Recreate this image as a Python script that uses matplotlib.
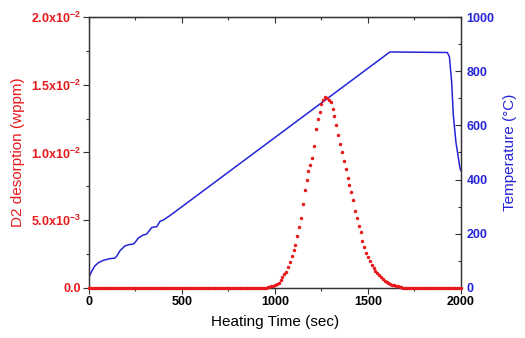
import numpy as np
import matplotlib
matplotlib.use("Agg")
import matplotlib.pyplot as plt
from matplotlib.ticker import MultipleLocator, FixedLocator, FixedFormatter

plt.rcParams.update({"font.family": ["Liberation Sans", "DejaVu Sans"],
                     "mathtext.fontset": "custom",
                     "mathtext.rm": "Liberation Sans",
                     "mathtext.bf": "Liberation Sans:bold"})

# D2 desorption sampled every 10 s (wppm)
d2_time = list(range(0, 2001, 10))
d2_wppm = [
    0, 0, 0, 0, 0, 0, 0, 0, 0, 0,
    0, 0, 0, 0, 0, 0, 0, 0, 0, 0,
    0, 0, 0, 0, 0, 0, 0, 0, 0, 0,
    0, 0, 0, 0, 0, 0, 0, 0, 0, 0,
    0, 0, 0, 0, 0, 0, 0, 0, 0, 0,
    0, 0, 0, 0, 0, 0, 0, 0, 0, 0,
    0, 0, 0, 0, 0, 0, 0, 0, 0, 0,
    0, 0, 0, 0, 0, 0, 0, 0, 0, 0,
    0, 0, 0, 0, 0, 0, 0, 0, 0, 0,
    0, 0, 0, 0, 0, 0.00003, 0.00006, 0.0001, 0.00014, 0.00018,
    0.00023, 0.0003, 0.0004, 0.00057, 0.00078, 0.001, 0.0012, 0.00155, 0.00195, 0.00237,
    0.0028, 0.0032, 0.0038, 0.0045, 0.0052, 0.0062, 0.0072, 0.0080, 0.0086, 0.0091,
    0.0096, 0.0105, 0.0117, 0.0125, 0.0130, 0.0136, 0.0139, 0.0141, 0.0140, 0.0139,
    0.0137, 0.0132, 0.0127, 0.0120, 0.0113, 0.0106, 0.0100, 0.0094, 0.0088, 0.0081,
    0.0076, 0.0071, 0.0065, 0.0057, 0.0052, 0.0046, 0.0041, 0.0035, 0.0030, 0.0026,
    0.0023, 0.0020, 0.0017, 0.00147, 0.00127, 0.0011, 0.00093, 0.00078, 0.00066, 0.00055,
    0.00045, 0.00037, 0.0003, 0.00025, 0.0002, 0.00016, 0.00012, 0.00008, 0.00005, 0.00003,
    0.00001, 0, 0, 0, 0, 0, 0, 0, 0, 0,
    0, 0, 0, 0, 0, 0, 0, 0, 0, 0,
    0, 0, 0, 0, 0, 0, 0, 0, 0, 0,
    0,
]

# sample temperature (°C)
temp_time = [0, 15, 31, 50, 77, 110, 138, 150, 166, 193, 215, 238, 250, 265, 290,
             310, 325, 337, 350, 364, 375, 382, 400, 435, 543, 1618, 1927, 1938,
             1950, 1959, 1973, 1995, 2000]
temp_c = [41, 62, 81, 93, 102, 108, 110, 118, 137, 155, 160, 162, 170, 184, 195,
          199, 212, 223, 225, 226, 238, 246, 251, 267, 322, 871, 869, 853,
          760, 637, 538, 441, 433]

left_ticks = [0, 0.005, 0.01, 0.015, 0.02]
left_labels = ["0.0", r"5.0x10$^{\mathbf{-3}}$", r"1.0x10$^{\mathbf{-2}}$",
               r"1.5x10$^{\mathbf{-2}}$", r"2.0x10$^{\mathbf{-2}}$"]

RED = "#e8191c"
BLUE = "#2424d8"
AX = "#333333"

fig = plt.figure(figsize=(5.25, 3.38), dpi=100)
ax = fig.add_axes([0.1695, 0.148, 0.7085, 0.8017])
ax2 = ax.twinx()

ax.plot(d2_time, d2_wppm, "o", color=RED, ms=2.5, mew=0, clip_on=False, zorder=4)
ax2.plot(temp_time, temp_c, color=BLUE, lw=1.1)

ax.set_zorder(2); ax.patch.set_visible(False)

ax.set_xlim(0, 2000)
ax.set_ylim(0, 0.02)
ax2.set_ylim(0, 1000)

ax.xaxis.set_major_locator(MultipleLocator(500))
ax.xaxis.set_minor_locator(MultipleLocator(250))
ax.yaxis.set_major_locator(FixedLocator(left_ticks))
ax.yaxis.set_major_formatter(FixedFormatter(left_labels))
ax.yaxis.set_minor_locator(MultipleLocator(0.0025))
ax2.yaxis.set_major_locator(MultipleLocator(200))
ax2.yaxis.set_minor_locator(MultipleLocator(100))

ax.tick_params(axis="both", which="major", direction="out", length=4, width=0.8,
               color=AX, labelsize=9, pad=2)
ax.tick_params(axis="both", which="minor", direction="out", length=2.5, width=0.8,
               color=AX)
ax.tick_params(axis="y", labelcolor=RED)
ax2.tick_params(axis="y", which="major", direction="in", length=4, width=0.8,
                color=AX, labelcolor=BLUE, labelsize=9, pad=4)
ax2.tick_params(axis="y", which="minor", direction="in", length=2.5, width=0.8,
                color=AX)

top = ax.secondary_xaxis("top")
top.xaxis.set_major_locator(MultipleLocator(500))
top.xaxis.set_minor_locator(MultipleLocator(250))
top.tick_params(which="major", direction="in", length=4, width=0.8, color=AX,
                labeltop=False)
top.tick_params(which="minor", direction="in", length=2.5, width=0.8, color=AX)

for a in (ax, ax2):
    for s in a.spines.values():
        s.set_color(AX); s.set_linewidth(0.9)
top.spines["top"].set_color(AX)

for lab in ax.get_xticklabels() + ax.get_yticklabels() + ax2.get_yticklabels():
    lab.set_fontweight("bold")

ax.set_xlabel("Heating Time (sec)", fontsize=11, labelpad=5)
ax.set_ylabel("D2 desorption (wppm)", fontsize=11, color=RED, labelpad=4)
ax2.set_ylabel("Temperature (°C)", fontsize=11, color=BLUE, labelpad=6)

fig.savefig("out.png", dpi=100)
